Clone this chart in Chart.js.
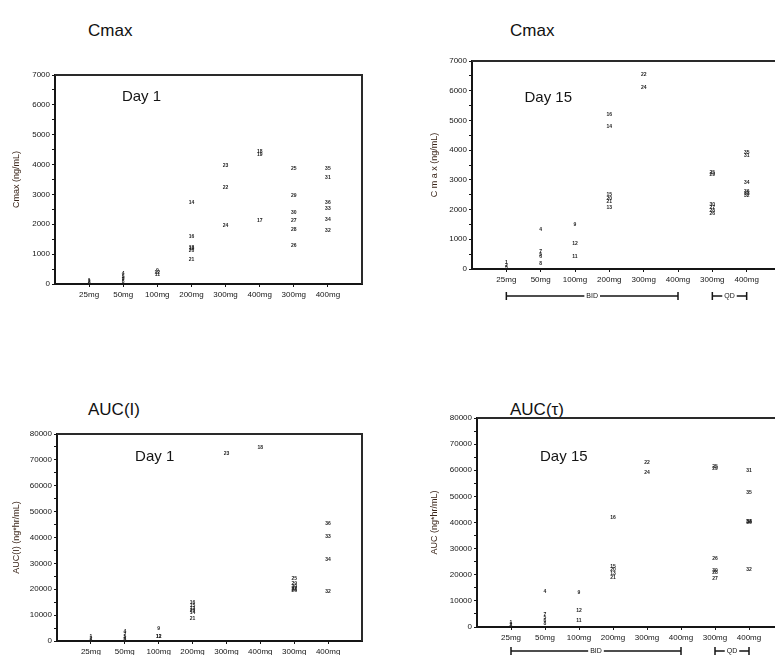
<!DOCTYPE html>
<html><head><meta charset="utf-8">
<script src="https://cdn.jsdelivr.net/npm/chart.js@4/dist/chart.umd.min.js"></script>
<style>
html,body{margin:0;padding:0;width:775px;height:655px;overflow:hidden;background:#fff;position:relative;}
canvas{position:absolute;}
.ttl{position:absolute;font-family:'Liberation Sans',Arial,sans-serif;font-size:17px;color:#111;line-height:17px;white-space:nowrap;}
</style></head><body>
<div class="ttl" style="left:88px;top:22px">Cmax</div>
<div class="ttl" style="left:510px;top:22px">Cmax</div>
<div class="ttl" style="left:88px;top:401px">AUC(I)</div>
<div class="ttl" style="left:510px;top:401px">AUC(τ)</div>
<canvas id="c1"></canvas>
<canvas id="c2"></canvas>
<canvas id="c3"></canvas>
<canvas id="c4"></canvas>
<script>
// ---- data ----
const categories = ['25mg','50mg','100mg','200mg','300mg','400mg','300mg','400mg'];
const regimenGroups = ['BID','QD'];
const regimenFrom = [1, 7];
const regimenTo = [6, 8];

// Cmax Day 1 (ng/mL)
const cmaxDay1Group   = [1,1,1, 2,2,2,2,2, 3,3,3, 4,4,4,4,4,4, 5,5,5, 6,6,6, 7,7,7,7,7,7, 8,8,8,8,8,8];
const cmaxDay1Value   = [120,70,30, 360,260,190,130,80, 460,310,380, 2720,1600,1230,1170,1130,830, 3980,3240,1940, 4430,4320,2120, 3870,2950,2390,2120,1830,1270, 3870,3570,2740,2510,2170,1780];
const cmaxDay1Subject = ['1','2','3', '4','5','6','7','8', '9','11','12', '14','16','13','15','20','21', '23','22','24', '18','19','17', '25','29','30','27','28','26', '35','31','36','33','34','32'];

// Cmax Day 15 (ng/mL)
const cmaxDay15Group   = [1,1,1, 2,2,2,2,2, 3,3,3, 4,4,4,4,4,4, 5,5, 7,7,7,7,7,7, 8,8,8,8,8,8];
const cmaxDay15Value   = [200,130,60, 1340,590,470,410,190, 1500,870,420, 5210,4790,2500,2380,2270,2070, 6530,6100, 3230,3160,2180,2080,1980,1880, 3900,3830,2920,2620,2540,2470];
const cmaxDay15Subject = ['1','2','3', '4','7','5','6','8', '9','12','11', '16','14','15','20','21','13', '22','24', '25','29','30','27','28','26', '35','31','34','36','33','32'];

// AUC(I) Day 1 (ng*hr/mL)
const aucDay1Group   = [1,1,1, 2,2,2,2,2, 3,3,3, 4,4,4,4,4,4, 5, 6, 7,7,7,7,7,7, 8,8,8,8];
const aucDay1Value   = [1500,800,300, 3500,2600,1600,900,500, 4900,1800,1500, 15000,13800,12700,11800,11000,8500, 72300, 74700, 24000,22300,21000,20300,19800,19400, 45300,40200,31600,19100];
const aucDay1Subject = ['1','2','3', '4','7','5','6','8', '9','12','11', '16','15','13','20','14','21', '23', '18', '25','29','30','27','28','26', '36','33','34','32'];

// AUC(tau) Day 15 (ng*hr/mL)
const aucDay15Group   = [1,1,1, 2,2,2,2,2, 3,3,3, 4,4,4,4,4, 5,5, 7,7,7,7,7,7, 8,8,8,8,8,8];
const aucDay15Value   = [1600,900,400, 13400,4800,3600,2500,1300, 13100,6100,2300, 41800,23000,21800,20500,19000, 63100,59200, 61300,60600,26300,21400,20800,18500, 59900,51300,40500,40300,39800,22100];
const aucDay15Subject = ['1','2','3', '4','7','5','6','8', '9','12','11', '16','15','20','13','21', '22','24', '25','29','26','30','28','27', '31','35','34','33','36','32'];

// ---- drawing ----
Chart.defaults.font.family = "'Liberation Sans', Arial, sans-serif";
const INK = '#151515';

function makePanel(id, box, plot, groups, values, subjects, yMax, yStep, yTitle, titlePad, dayText, dayPos, bracketOffset) {
  const cv = document.getElementById(id);
  cv.width = box.w; cv.height = box.h;
  cv.style.left = box.x + 'px'; cv.style.top = box.y + 'px';
  cv.style.width = box.w + 'px'; cv.style.height = box.h + 'px';
  const pts = groups.map((g, i) => ({x: g, y: values[i]}));

  const panelPlugin = {
    id: 'panelPlugin',
    afterDatasetsDraw(chart) {
      const ctx = chart.ctx;
      const meta = chart.getDatasetMeta(0);
      ctx.save();
      ctx.font = 'bold 5px "Liberation Sans", Arial, sans-serif';
      ctx.fillStyle = '#222';
      ctx.textAlign = 'center';
      ctx.textBaseline = 'middle';
      meta.data.forEach((el, i) => { ctx.fillText(subjects[i], el.x, el.y); });
      ctx.restore();
    },
    afterDraw(chart) {
      const ctx = chart.ctx;
      const a = chart.chartArea;
      ctx.save();
      // frame top & right
      ctx.strokeStyle = '#2a2a2a';
      ctx.lineWidth = 2;
      ctx.beginPath();
      ctx.moveTo(a.left, a.top); ctx.lineTo(a.right, a.top); ctx.lineTo(a.right, a.bottom);
      ctx.stroke();
      // Day text
      ctx.fillStyle = INK;
      ctx.font = '15px "Liberation Sans", Arial, sans-serif';
      ctx.textAlign = 'left';
      ctx.textBaseline = 'middle';
      ctx.fillText(dayText, a.left + dayPos[0] * (a.right - a.left), a.top + dayPos[1] * (a.bottom - a.top));
      // regimen brackets
      if (bracketOffset) {
        const xs = chart.scales.x;
        const y = a.bottom + bracketOffset;
        ctx.strokeStyle = INK;
        ctx.lineWidth = 1.5;
        ctx.font = '7px "Liberation Sans", Arial, sans-serif';
        ctx.textAlign = 'center';
        regimenGroups.forEach((lab, k) => {
          const x1 = xs.getPixelForValue(regimenFrom[k]);
          const x2 = xs.getPixelForValue(regimenTo[k]);
          ctx.beginPath();
          ctx.moveTo(x1, y); ctx.lineTo(x2, y);
          ctx.moveTo(x1, y - 4); ctx.lineTo(x1, y + 4);
          ctx.moveTo(x2, y - 4); ctx.lineTo(x2, y + 4);
          ctx.stroke();
          const xm = (x1 + x2) / 2;
          const w = ctx.measureText(lab).width + 4;
          ctx.fillStyle = '#fff';
          ctx.fillRect(xm - w / 2, y - 4, w, 8);
          ctx.fillStyle = INK;
          ctx.fillText(lab, xm, y + 0.5);
        });
      }
      ctx.restore();
    }
  };

  new Chart(cv, {
    type: 'scatter',
    data: {datasets: [{data: pts, pointRadius: 0, pointHoverRadius: 0, showLine: false}]},
    options: {
      responsive: false, animation: false, devicePixelRatio: 1, events: [],
      layout: {padding: {top: plot.t - box.y, right: box.x + box.w - plot.r, bottom: 0, left: 0}},
      plugins: {legend: {display: false}, tooltip: {enabled: false}, title: {display: false}},
      scales: {
        x: {
          type: 'linear', min: 0, max: 9,
          afterBuildTicks: s => { s.ticks = categories.map((c, i) => ({value: i + 1})); },
          afterFit: s => { s.height = box.y + box.h - plot.b; },
          ticks: {autoSkip: false, maxRotation: 0, minRotation: 0, padding: 3,
                  callback: v => categories[v - 1] || '', color: INK, font: {size: 8}},
          grid: {drawOnChartArea: false, drawTicks: true, tickLength: 3, tickColor: INK, tickWidth: 1},
          border: {display: true, color: INK, width: 2}
        },
        y: {
          type: 'linear', min: 0, max: yMax,
          ticks: {stepSize: yStep / 2, autoSkip: false, padding: 2, color: INK, font: {size: 8},
                  callback: v => (v % yStep === 0 ? String(v) : '')},
          afterFit: s => { s.width = plot.l - box.x; },
          grid: {drawOnChartArea: false, drawTicks: true, tickLength: 3, tickColor: INK, tickWidth: 1},
          border: {display: true, color: INK, width: 2},
          title: {display: true, text: yTitle, color: '#3a2418', font: {size: 9}, padding: {top: titlePad, bottom: 0}}
        }
      }
    },
    plugins: [panelPlugin]
  });
}

makePanel('c1', {x: 0, y: 50, w: 380, h: 265}, {l: 55, t: 75, r: 362, b: 284},
  cmaxDay1Group, cmaxDay1Value, cmaxDay1Subject, 7000, 1000, 'Cmax (ng/mL)', 11, 'Day 1', [0.218, 0.105], 0);
makePanel('c2', {x: 395, y: 40, w: 400, h: 270}, {l: 472, t: 61, r: 781, b: 269},
  cmaxDay15Group, cmaxDay15Value, cmaxDay15Subject, 7000, 1000, 'C m a x (ng/mL)', 34, 'Day 15', [0.17, 0.178], 27);
makePanel('c3', {x: 0, y: 420, w: 380, h: 235}, {l: 57, t: 434, r: 362, b: 641},
  aucDay1Group, aucDay1Value, aucDay1Subject, 80000, 10000, 'AUC(I) (ng*hr/mL)', 11, 'Day 1', [0.256, 0.111], 0);
makePanel('c4', {x: 395, y: 400, w: 400, h: 255}, {l: 477, t: 418, r: 783, b: 627},
  aucDay15Group, aucDay15Value, aucDay15Subject, 80000, 10000, 'AUC (ng*hr/mL)', 34, 'Day 15', [0.206, 0.187], 24);
</script>
</body></html>
